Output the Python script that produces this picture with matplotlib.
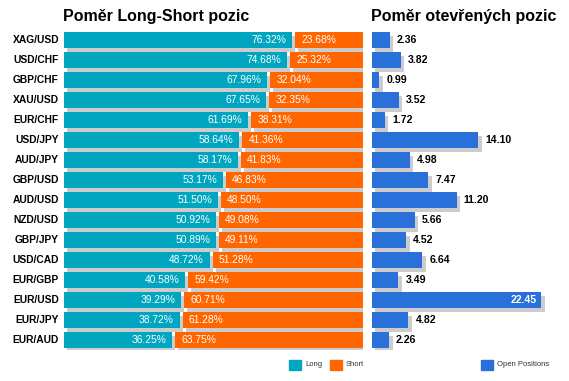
import matplotlib
matplotlib.use("Agg")
import matplotlib.pyplot as plt
from matplotlib.transforms import offset_copy
from matplotlib.patches import Rectangle

plt.rcParams['font.family'] = ['Liberation Sans', 'DejaVu Sans']

pairs = ["XAG/USD", "USD/CHF", "GBP/CHF", "XAU/USD", "EUR/CHF", "USD/JPY", "AUD/JPY", "GBP/USD",
         "AUD/USD", "NZD/USD", "GBP/JPY", "USD/CAD", "EUR/GBP", "EUR/USD", "EUR/JPY", "EUR/AUD"]
long_pct = [76.32, 74.68, 67.96, 67.65, 61.69, 58.64, 58.17, 53.17, 51.50, 50.92, 50.89, 48.72, 40.58, 39.29, 38.72, 36.25]
short_pct = [23.68, 25.32, 32.04, 32.35, 38.31, 41.36, 41.83, 46.83, 48.50, 49.08, 49.11, 51.28, 59.42, 60.71, 61.28, 63.75]
open_pos = [2.36, 3.82, 0.99, 3.52, 1.72, 14.10, 4.98, 7.47, 11.20, 5.66, 4.52, 6.64, 3.49, 22.45, 4.82, 2.26]

C_LONG = "#00a6bf"
C_SHORT = "#ff6600"
C_OPEN = "#2a70da"
C_SHADOW = "#cccccc"

W, H = 569, 381
fig = plt.figure(figsize=(W / 100, H / 100), dpi=100)

def fx(px):
    return px / W

def fy(py):
    return 1 - py / H

top, bot = 30, 350
axL = fig.add_axes([fx(64), fy(bot), fx(363) - fx(64), (bot - top) / H])
axR = fig.add_axes([fx(372), fy(bot), 25 * 7.55 / W, (bot - top) / H])

n = len(pairs)
ys = list(range(n))
bh = 0.8
gap = 1.0  # percent units gap between long and short

for ax in (axL, axR):
    ax.set_ylim(n - 0.5, -0.5)
    ax.axis("off")

axL.set_xlim(0, 100)
axR.set_xlim(0, 25)

shL = offset_copy(axL.transData, fig=fig, x=3, y=-3.5, units='dots')
shR = offset_copy(axR.transData, fig=fig, x=3.5, y=-3.5, units='dots')

long_w = list(long_pct)
short_left = [l + gap for l in long_pct]
short_w = [100 - s for s in short_left]

axL.barh(ys, long_w, height=bh, color=C_SHADOW, transform=shL, zorder=1)
axL.barh(ys, short_w, left=short_left, height=bh, color=C_SHADOW, transform=shL, zorder=1)
axL.barh(ys, long_w, height=bh, color=C_LONG, zorder=2)
axL.barh(ys, short_w, left=short_left, height=bh, color=C_SHORT, zorder=2)

lbl_in_l = offset_copy(axL.transData, fig=fig, x=-6, y=0, units='dots')
lbl_in_s = offset_copy(axL.transData, fig=fig, x=6, y=0, units='dots')
for y, l, s, sl in zip(ys, long_pct, short_pct, short_left):
    axL.text(l, y, f"{l:.2f}%", transform=lbl_in_l, ha="right", va="center",
             color="white", fontsize=7.4, zorder=3)
    axL.text(sl, y, f"{s:.2f}%", transform=lbl_in_s, ha="left", va="center",
             color="white", fontsize=7.4, zorder=3)

cat_tr = offset_copy(axL.transData, fig=fig, x=-5, y=0, units='dots')
for y, p in zip(ys, pairs):
    axL.text(0, y, p, transform=cat_tr, ha="right", va="center", fontsize=7.4,
             fontweight="bold", color="black")

axR.barh(ys, open_pos, height=bh, color=C_SHADOW, transform=shR, zorder=1)
axR.barh(ys, open_pos, height=bh, color=C_OPEN, zorder=2)
out_tr = offset_copy(axR.transData, fig=fig, x=7, y=0, units='dots')
in_tr = offset_copy(axR.transData, fig=fig, x=-5, y=0, units='dots')
vmax = max(open_pos)
for y, v in zip(ys, open_pos):
    if v == vmax:
        axR.text(v, y, f"{v:.2f}", transform=in_tr, ha="right", va="center",
                 color="white", fontsize=7.6, fontweight="bold", zorder=3)
    else:
        axR.text(v, y, f"{v:.2f}", transform=out_tr, ha="left", va="center",
                 color="black", fontsize=7.6, fontweight="bold", zorder=3)

fig.text(fx(63), fy(17), "Poměr Long-Short pozic", fontsize=11.5, fontweight="bold",
         ha="left", va="center")
fig.text(fx(371), fy(17), "Poměr otevřených pozic", fontsize=11.5, fontweight="bold",
         ha="left", va="center")

# legends
def legend_item(x, label, color):
    fig.patches.append(Rectangle((fx(x), fy(369.5)), 11.5 / W, 10 / H, transform=fig.transFigure,
                                 color=color, figure=fig))
    fig.text(fx(x + 16), fy(365), label, fontsize=5.5, color="#333333", ha="left", va="center")

legend_item(289, "Long", C_LONG)
legend_item(330, "Short", C_SHORT)
legend_item(481, "Open Positions", C_OPEN)

fig.savefig("out.png", dpi=100)
